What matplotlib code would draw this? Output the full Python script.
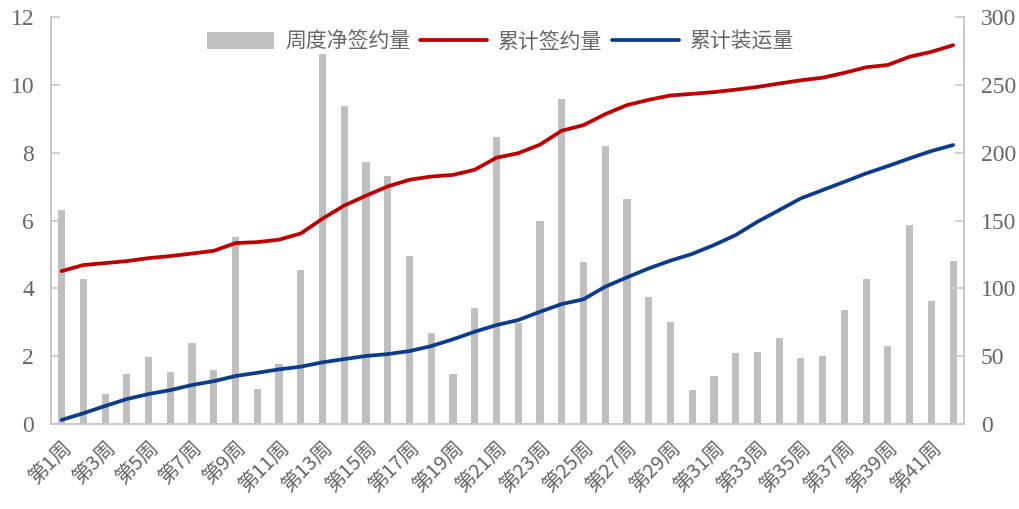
import matplotlib
matplotlib.use("Agg")
import matplotlib.pyplot as plt
import numpy as np

# data
weeks = [f"第{i}周" for i in range(1, 43)]
weekly_signed = [6.31, 4.28, 0.88, 1.47, 1.97, 1.53, 2.40, 1.59, 5.53, 1.02,
                 1.77, 4.54, 10.91, 9.39, 7.74, 7.33, 4.96, 2.69, 1.47, 3.43,
                 8.46, 2.99, 5.99, 9.58, 4.77, 8.20, 6.63, 3.74, 3.02, 1.00,
                 1.43, 2.09, 2.12, 2.53, 1.94, 2.01, 3.36, 4.29, 2.30, 5.86,
                 3.62, 4.82]
cum_signed = [112.8, 117.3, 118.7, 120.2, 122.4, 123.9, 125.8, 127.8, 133.5, 134.2,
              136.0, 140.6, 151.5, 161.2, 168.5, 175.3, 180.2, 182.6, 183.8, 187.6,
              196.5, 199.8, 206.1, 216.4, 220.5, 228.6, 235.3, 239.2, 242.4, 243.6,
              244.9, 246.7, 248.7, 251.2, 253.6, 255.5, 259.1, 263.2, 264.9, 271.0,
              274.6, 279.5]
cum_shipped = [3.0, 7.9, 13.3, 18.4, 22.1, 25.0, 28.8, 31.6, 35.4, 37.8,
               40.3, 42.3, 45.5, 47.9, 50.2, 51.6, 53.8, 57.5, 62.5, 68.1,
               73.0, 76.7, 82.8, 88.5, 92.0, 101.3, 108.2, 114.8, 120.5, 125.5,
               132.0, 139.4, 149.2, 157.8, 166.5, 172.6, 178.7, 184.9, 190.3, 196.0,
               201.4, 205.8]

grey = "#BFBFBF"
txt = "#666666"
cjk = ["Noto Sans CJK SC", "DejaVu Sans"]
serif = "Liberation Serif"

fig = plt.figure(figsize=(10.19, 5.09), dpi=100)
ax = fig.add_axes([0.0498, 0.167, 0.8962, 0.7988])
ax2 = ax.twinx()

x = np.arange(len(weeks))
bars = ax.bar(x, weekly_signed, width=0.33, color=grey, label="周度净签约量", zorder=2)
l1, = ax2.plot(x, cum_signed, color="#C00000", lw=2.7, label="累计签约量", solid_capstyle="round")
l2, = ax2.plot(x, cum_shipped, color="#0B3C8C", lw=2.7, label="累计装运量", solid_capstyle="round")

ax.set_xlim(-0.5, len(weeks) - 0.5)
ax.set_ylim(0, 12)
ax.set_yticks(range(0, 13, 2))
ax2.set_ylim(0, 300)
ax2.set_yticks(range(0, 301, 50))

for a in (ax, ax2):
    for s in a.spines.values():
        s.set_color("#C8C8C8")
        s.set_linewidth(1.2)
    a.spines["top"].set_visible(False)

ax.tick_params(axis="y", direction="in", length=6.5, width=1.2, color="#C8C8C8",
               labelsize=17, labelcolor=txt, pad=12)
ax2.tick_params(axis="y", direction="in", length=6.5, width=1.2, color="#C8C8C8",
                labelsize=17, labelcolor=txt, pad=12)
for lab in ax.get_yticklabels() + ax2.get_yticklabels():
    lab.set_fontfamily(serif)

ax.set_xticks(x[::2])
ax.set_xticklabels(weeks[::2], rotation=45, ha="right", va="top",
                   rotation_mode="anchor", fontsize=14.5, color=txt, family=cjk)
ax.tick_params(axis="x", length=0, pad=10)

leg = ax2.legend(handles=[bars, l1, l2], loc="upper center", bbox_to_anchor=(0.493, 1.0),
                 ncol=3, frameon=False, prop={"family": cjk, "size": 15},
                 handlelength=3.2, handleheight=0.9, handletextpad=0.55,
                 columnspacing=0.45, borderaxespad=0.25)
for t in leg.get_texts():
    t.set_color(txt)

fig.savefig("out.png", dpi=100)
